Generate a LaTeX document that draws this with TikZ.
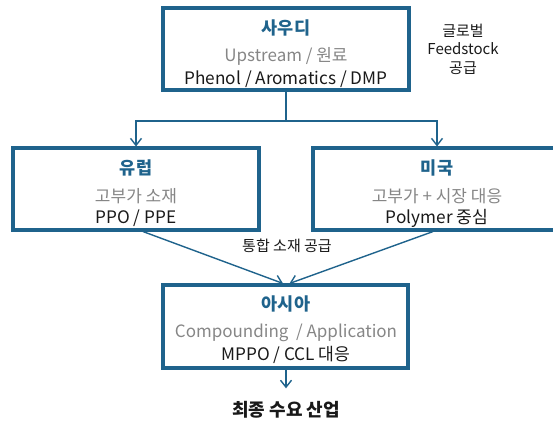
\documentclass[tikz,border=0pt]{standalone}
\usepackage{fontspec}
\setmainfont{Noto Sans CJK KR}
\usetikzlibrary{arrows.meta}
\definecolor{boxblue}{RGB}{31,99,140}
\definecolor{txtgray}{RGB}{134,134,134}
\definecolor{txtdark}{RGB}{25,25,25}
\tikzset{
  regionbox/.style={draw=boxblue, line width=3.1pt, rectangle, inner sep=0pt},
  ttl/.style={font=\fontsize{17.5}{20}\selectfont\bfseries, text=boxblue, inner sep=0pt},
  sub/.style={font=\fontsize{17}{19}\selectfont, text=txtgray, inner sep=0pt},
  body/.style={font=\fontsize{17.2}{19}\selectfont, text=txtdark, inner sep=0pt},
  plain/.style={font=\fontsize{15}{17}\selectfont, text=txtdark, inner sep=0pt},
  arr/.style={draw=boxblue, line width=1.4pt, -{Straight Barb[length=7pt,width=11pt,line width=1.4pt]}},
  conn/.style={draw=boxblue, line width=1.4pt}
}
\begin{document}
\begin{tikzpicture}[x=1pt,y=1pt]
\useasboundingbox (0,0) rectangle (553,-421);
\clip (0,0) rectangle (553,-421);
% boxes
\node[regionbox, minimum width=246pt, minimum height=82pt] (top) at (286,-49) {};
\node[regionbox, minimum width=246pt, minimum height=82pt] (eu) at (136,-189) {};
\node[regionbox, minimum width=248pt, minimum height=82pt] (us) at (437,-189) {};
\node[regionbox, minimum width=245pt, minimum height=83pt] (asia) at (285.5,-326.5) {};
% top texts
\node[ttl] (t1) at (286,-28) {사우디};
\node[sub] (t2) at (286,-56) {Upstream / 원료};
\node[body] (t3) at (286,-79) {Phenol / Aromatics / DMP};
% side text
\node[plain, align=center, font=\fontsize{15}{18.5}\selectfont] (side) at (463,-49) {글로벌\\Feedstock\\공급};
% eu texts
\node[ttl] (e1) at (136,-168) {유럽};
\node[sub] (e2) at (136,-196) {고부가 소재};
\node[body] (e3) at (136,-218) {PPO / PPE};
% us texts
\node[ttl] (u1) at (437,-168) {미국};
\node[sub] (u2) at (437,-196) {고부가 + 시장 대응};
\node[body] (u3) at (437,-218) {Polymer 중심};
% asia texts
\node[ttl] (a1) at (286,-304) {아시아};
\node[sub] (a2) at (286,-333) {Compounding \ / Application};
\node[body] (a3) at (286,-355) {MPPO / CCL 대응};
% label
\node[plain] (lbl) at (287,-246) {통합 소재 공급};
% final
\node[plain, font=\fontsize{18}{20}\selectfont\bfseries, inner sep=3pt] (final) at (286,-410) {최종 수요 산업};
% connectors
\coordinate (split) at (286,-121);
\draw[conn] (top.south) -- (split);
\draw[arr] (split) -| (eu.north);
\draw[arr] (split) -| (us.north);
\draw[arr] ([xshift=7pt]eu.south) -- ([xshift=-2.5pt]asia.north);
\draw[arr] ([xshift=-4pt]us.south) -- ([xshift=4pt]asia.north);
\draw[arr] ([xshift=0.5pt]asia.south) -- ([yshift=10pt]final.north);
\end{tikzpicture}
\end{document}
